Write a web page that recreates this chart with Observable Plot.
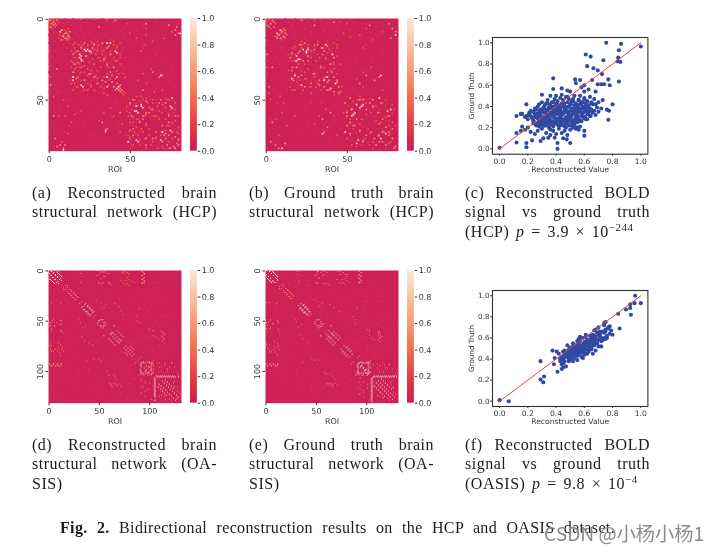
<!DOCTYPE html>
<html><head><meta charset="utf-8">
<script src="https://cdn.jsdelivr.net/npm/d3@7"></script>
<script src="https://cdn.jsdelivr.net/npm/@observablehq/plot@0.6"></script>
<style>
html,body{margin:0;padding:0;background:#fff;width:715px;height:552px;overflow:hidden}
#page{position:relative;width:715px;height:552px;filter:blur(.35px)}
.p{position:absolute}
.heat rect{shape-rendering:crispEdges}
.heat svg g[aria-label="cell"],.heat svg g[aria-label="frame"]{filter:blur(.45px)}
.l{position:absolute;font-family:"Liberation Serif",serif;font-size:16px;line-height:19px;color:#1c1c1c;white-space:nowrap;letter-spacing:.5px}
.j{white-space:normal;text-align:justify;text-align-last:justify}
.w{word-spacing:2.2px}
sup{font-size:11px;line-height:0}
#wm{position:absolute;left:544px;top:521px;font-family:"Noto Sans CJK SC",sans-serif;font-size:19.2px;line-height:24px;color:#8b8b8b;white-space:nowrap}
</style></head><body><div id="page"></div>
<script>
// ---------- Heatmap cells (row, col); each is mirrored across the diagonal
const hcpReconPeak=[[7,8],[19,24],[23,20],[25,20],[19,22],[20,41],[15,36],[36,15],[38,15],[42,21],[36,36],[42,43],[36,42],[57,54],[58,55],[53,57],[54,54],[54,75],[75,69],[70,70],[76,55],[76,49],[69,35],[81,9]];
const hcpReconHigh=[[1,1],[2,3],[1,5],[3,4],[9,10],[10,12],[9,11],[11,12],[8,13],[15,22],[16,28],[18,20],[18,36],[21,26],[22,38],[23,23],[20,26],[18,27],[30,40],[15,33],[25,34],[28,36],[17,37],[33,38],[39,39],[40,42],[41,44],[43,44],[44,45],[35,39],[50,52],[51,60],[52,72],[56,64],[58,60],[60,78],[58,62],[64,74],[66,70],[52,68],[70,76],[71,72],[72,74],[73,78],[75,80],[77,79],[78,80],[50,69],[60,74],[0,20],[1,41],[3,60],[4,74],[7,78],[9,80],[5,79],[36,68],[35,70],[33,64],[44,58],[10,78],[5,31]];
const hcpReconMid=[[0,4],[0,6],[2,6],[4,5],[3,1],[7,10],[8,11],[11,13],[12,13],[6,12],[0,24],[0,28],[1,36],[0,45],[3,48],[14,20],[14,26],[14,30],[14,40],[15,16],[15,44],[16,18],[16,24],[17,20],[17,30],[17,42],[19,28],[19,34],[20,30],[20,38],[21,16],[22,33],[22,44],[24,31],[24,40],[25,27],[26,34],[26,42],[27,15],[28,28],[28,44],[29,22],[29,36],[30,19],[30,32],[31,16],[32,26],[32,42],[33,20],[34,36],[34,46],[35,24],[37,30],[37,41],[38,22],[38,37],[40,16],[40,30],[41,26],[42,18],[43,34],[44,24],[45,46],[46,47],[47,36],[48,54],[49,60],[49,72],[50,58],[50,74],[51,56],[52,64],[53,50],[53,70],[55,62],[55,72],[56,78],[57,48],[57,68],[59,60],[59,74],[60,66],[61,52],[62,72],[63,56],[63,78],[64,50],[65,60],[66,74],[67,54],[67,80],[68,62],[69,72],[70,58],[71,80],[73,50],[73,66],[74,76],[75,56],[76,64],[78,52],[79,70],[80,60],[80,74],[10,60],[8,76],[6,60],[40,60],[38,55],[31,63],[34,58],[16,59],[20,57],[44,70],[45,65],[12,54],[12,71],[14,64],[9,50]];
const hcpReconDim=[[0,10],[0,15],[0,33],[1,18],[1,29],[2,12],[2,23],[2,40],[3,9],[4,14],[4,20],[5,9],[5,46],[6,20],[6,33],[7,13],[7,45],[8,25],[8,40],[9,16],[10,22],[10,34],[11,18],[11,46],[12,28],[13,38],[13,15],[14,17],[15,28],[16,33],[16,40],[17,24],[18,46],[19,16],[20,21],[21,29],[21,44],[22,18],[23,35],[24,24],[25,43],[26,16],[27,30],[27,38],[28,19],[29,45],[30,24],[31,36],[32,18],[33,45],[35,29],[37,47],[39,18],[39,26],[41,33],[43,16],[45,20],[46,31],[47,24],[48,62],[49,49],[50,66],[51,78],[52,54],[54,62],[55,48],[56,70],[58,49],[58,77],[59,54],[61,68],[62,50],[64,60],[65,76],[66,52],[68,80],[69,58],[71,54],[72,62],[74,50],[77,56],[77,68],[79,60],[80,50],[2,52],[2,66],[6,70],[7,54],[13,50],[13,66],[4,58],[18,58],[22,66],[24,52],[26,72],[28,60],[30,76],[32,54],[34,66],[36,50],[38,74],[39,61],[41,52],[43,66],[46,56],[47,72],[10,70],[3,80]];
const hcpTruthPeak=[[7,9],[25,20],[19,26],[19,23],[21,25],[22,41],[18,35],[37,16],[40,43],[38,36],[59,54],[53,60],[55,58],[56,53],[57,75],[74,71],[70,49],[77,56],[71,35],[80,10]];
const hcpTruthHigh=[[0,2],[1,4],[2,5],[3,3],[8,10],[9,12],[10,8],[11,11],[7,12],[15,24],[16,21],[17,38],[19,30],[20,36],[21,20],[23,26],[24,42],[26,18],[28,40],[30,34],[32,16],[33,38],[35,22],[36,42],[37,36],[38,39],[39,44],[41,33],[42,45],[44,38],[45,46],[49,52],[50,60],[52,71],[54,66],[56,62],[58,50],[60,76],[62,72],[64,52],[65,70],[67,74],[69,58],[70,72],[72,76],[74,78],[76,70],[78,68],[79,80],[66,50],[1,22],[2,42],[4,64],[3,76],[6,78],[8,80],[36,70],[38,67],[35,62],[40,58],[12,77],[4,30]];
const hcpTruthMid=[[0,6],[1,1],[3,6],[5,5],[7,11],[9,9],[10,13],[12,12],[6,11],[0,26],[1,30],[0,40],[2,46],[3,50],[14,22],[14,32],[15,42],[16,26],[17,18],[17,30],[18,22],[18,44],[20,28],[21,38],[22,16],[22,32],[23,44],[24,28],[25,37],[26,26],[27,42],[28,20],[29,34],[30,16],[31,26],[31,42],[33,24],[34,18],[34,44],[36,30],[37,24],[39,19],[40,32],[41,22],[42,28],[43,40],[44,16],[46,28],[47,42],[48,58],[49,70],[50,74],[51,54],[52,62],[53,78],[55,66],[57,50],[58,70],[59,62],[60,54],[61,74],[63,68],[64,78],[65,58],[66,76],[68,54],[69,72],[71,64],[72,52],[73,70],[75,60],[77,76],[79,56],[80,66],[10,58],[8,72],[6,62],[42,60],[37,56],[30,65],[33,60],[18,60],[44,72],[11,52],[13,66],[9,48]];
const hcpTruthDim=[[0,12],[0,18],[1,34],[2,14],[2,26],[3,38],[4,16],[5,44],[6,24],[7,36],[8,28],[10,18],[11,40],[12,24],[13,44],[14,38],[15,18],[16,36],[17,44],[19,18],[20,40],[21,30],[23,16],[24,34],[25,22],[27,28],[28,46],[29,20],[31,35],[32,40],[33,30],[35,46],[37,19],[39,28],[40,16],[43,20],[45,32],[46,22],[48,50],[49,64],[50,78],[51,68],[53,56],[54,74],[56,50],[57,64],[59,78],[61,50],[62,60],[63,76],[65,52],[67,60],[68,78],[70,56],[71,48],[73,60],[75,52],[76,66],[78,58],[80,74],[2,54],[5,68],[7,52],[12,64],[16,62],[20,72],[24,56],[26,66],[28,52],[32,70],[34,52],[39,74],[41,62],[43,54],[46,68],[3,62]];
const oasisReconPeak=[[55,65],[1,3],[3,5],[5,7],[7,9],[2,9],[4,11],[6,13],[8,12],[106,108],[106,112],[106,116],[106,120],[106,124],[107,105],[111,105],[115,105],[119,105],[123,105],[110,113],[112,115],[114,117],[116,119],[109,116],[111,118],[113,120],[92,94],[96,100],[102,92],[102,98],[36,39],[38,41],[40,43]];
const oasisReconHigh=[[0,2],[0,7],[0,11],[2,5],[4,7],[6,9],[9,11],[10,13],[1,9],[3,10],[5,12],[106,110],[106,114],[106,118],[106,122],[106,126],[106,129],[109,105],[113,105],[117,105],[121,105],[125,105],[129,105],[118,121],[120,123],[122,125],[124,127],[126,129],[115,122],[117,124],[92,92],[92,96],[92,100],[92,103],[94,91],[98,91],[100,91],[95,97],[97,99],[99,101],[102,94],[102,96],[102,100],[102,103],[33,37],[35,39],[37,41],[39,43],[41,45],[34,36],[42,44],[62,64],[64,66],[66,68],[68,70],[70,72],[60,68],[62,70],[64,72],[66,74],[49,52],[49,54],[50,50],[52,56],[54,57],[55,52],[55,55],[0,48],[0,50],[1,93],[3,95],[5,93],[7,95],[9,93],[11,95],[13,93],[63,62],[71,69],[75,77],[77,79],[79,81],[81,83],[83,85],[76,82],[78,84]];
const oasisReconMid=[[17,15],[19,17],[21,19],[23,21],[25,23],[27,25],[29,27],[20,23],[22,25],[24,27],[26,29],[15,19],[31,33],[45,47],[1,52],[2,55],[3,58],[5,48],[6,55],[12,50],[12,54],[13,60],[1,75],[2,78],[3,80],[5,80],[7,78],[9,80],[11,82],[12,85],[0,32],[3,32],[12,32],[0,61],[0,64],[50,0],[52,2],[50,4],[52,8],[50,13],[55,1],[56,6],[59,0],[60,3],[60,12],[62,14],[53,13],[75,3],[77,10],[78,13],[80,15],[73,2],[72,10],[74,12],[76,14],[80,3],[92,0],[94,2],[95,4],[93,5],[94,8],[95,10],[95,13],[93,12],[104,94],[104,98],[104,102],[90,104],[95,104],[100,104],[113,62],[113,66],[113,70],[115,64],[115,68],[115,72],[104,65],[104,60],[60,112],[62,114],[65,112],[68,114],[63,116],[108,92],[110,96],[112,100],[115,94],[118,98],[122,92],[125,96],[128,102],[92,110],[96,112],[92,116],[96,120],[92,122],[100,118],[30,48],[32,52],[34,57],[37,55],[33,66],[36,70],[40,72],[44,74],[45,88],[50,88],[38,90],[88,90],[86,92],[52,90],[58,100],[60,104],[66,106],[68,109],[120,128],[115,125],[110,125],[127,128],[124,112],[128,116],[130,122]];
const oasisReconDim=[[18,30],[20,32],[23,40],[25,44],[10,20],[12,22],[8,30],[6,34],[11,40],[14,44],[28,50],[30,56],[32,40],[36,52],[42,54],[44,60],[46,52],[58,60],[60,62],[57,70],[72,80],[73,82],[70,88],[69,92],[67,95],[84,88],[86,88],[82,94],[80,100],[90,60],[92,52],[96,48],[98,40],[100,30],[96,36],[100,22],[103,12],[110,30],[117,30],[118,45],[106,50],[110,55],[120,62],[122,72],[125,70],[128,80],[100,76],[104,80],[108,84],[112,80],[98,66],[94,72],[20,110],[30,100],[48,120],[56,118],[50,128],[40,100],[45,115],[70,120],[75,110],[82,118],[78,126],[88,128],[85,108],[42,70],[48,82],[54,86],[22,62],[28,70],[16,72],[19,90],[26,82],[12,106],[4,118],[8,125]];
const oasisTruthPeak=[[55,65],[1,4],[3,6],[5,8],[7,10],[2,8],[4,10],[6,12],[106,107],[106,111],[106,115],[106,119],[106,123],[106,127],[108,105],[112,105],[116,105],[120,105],[124,105],[128,105],[110,112],[112,114],[114,116],[116,118],[118,120],[108,115],[110,117],[112,119],[114,121],[92,93],[92,97],[92,101],[102,91],[102,95],[102,99],[102,103],[95,95],[97,97],[99,99],[35,38],[37,40],[39,42],[41,44],[63,66],[65,68],[67,70],[69,72]];
const oasisTruthHigh=[[0,1],[0,5],[0,9],[1,7],[3,9],[5,11],[8,11],[9,12],[10,12],[106,109],[106,113],[106,117],[106,121],[106,125],[106,130],[110,105],[114,105],[118,105],[122,105],[126,105],[130,105],[120,122],[122,124],[124,126],[126,128],[116,123],[118,125],[92,95],[92,99],[92,103],[94,91],[96,91],[100,91],[94,96],[98,100],[100,102],[102,93],[102,97],[102,101],[33,35],[35,37],[37,39],[39,41],[41,43],[43,45],[34,38],[36,40],[38,42],[61,68],[63,70],[65,72],[67,74],[60,63],[62,65],[64,67],[49,51],[49,53],[51,55],[53,57],[55,53],[55,56],[0,49],[0,51],[0,93],[2,95],[4,93],[6,95],[8,93],[10,95],[12,93],[1,52],[75,78],[77,80],[79,82],[81,84],[83,86],[76,81],[78,83],[80,85],[90,104],[96,104],[101,104]];
const oasisTruthMid=[[16,14],[18,16],[20,18],[22,20],[24,22],[26,24],[28,26],[19,22],[21,24],[23,26],[25,28],[14,18],[2,55],[4,58],[5,49],[7,53],[12,51],[13,58],[1,74],[2,77],[4,79],[6,81],[8,79],[10,81],[12,84],[1,32],[4,32],[11,33],[49,0],[51,3],[50,5],[53,8],[50,12],[54,0],[57,5],[58,1],[61,2],[60,13],[63,14],[52,13],[74,4],[76,9],[77,12],[79,14],[72,1],[71,9],[73,12],[75,13],[81,4],[91,0],[93,1],[94,5],[92,6],[94,9],[93,12],[95,12],[104,93],[104,97],[104,101],[112,61],[112,65],[112,69],[114,63],[114,67],[114,71],[116,66],[103,64],[103,59],[61,113],[63,112],[65,114],[67,113],[107,94],[111,97],[113,101],[116,92],[119,97],[123,94],[126,98],[129,103],[93,111],[95,114],[94,118],[97,121],[93,123],[101,117],[29,48],[31,51],[33,56],[36,54],[34,64],[37,68],[41,73],[46,87],[49,89],[37,91],[87,91],[85,93],[53,89],[59,101],[61,103],[67,105],[69,108],[121,127],[116,126],[111,124],[125,113],[127,117],[129,123]];
const oasisTruthDim=[[17,30],[21,33],[24,41],[26,45],[9,21],[13,23],[7,31],[5,35],[10,41],[15,43],[27,51],[31,57],[33,41],[35,53],[43,55],[45,61],[47,53],[59,61],[58,71],[71,81],[74,83],[71,87],[70,91],[66,96],[85,87],[81,95],[79,101],[91,61],[93,51],[97,49],[99,41],[101,31],[97,35],[101,21],[104,13],[111,31],[116,31],[117,46],[107,51],[111,54],[121,63],[123,73],[126,71],[127,81],[101,75],[105,81],[109,83],[113,81],[99,67],[93,73],[21,111],[31,99],[47,121],[57,117],[51,127],[41,99],[46,114],[71,119],[74,111],[83,117],[79,125],[89,127],[84,109],[43,71],[49,83],[55,85],[23,63],[29,71],[17,73],[20,89],[27,83]];

// ---------- Scatter panels (x = reconstructed, y = ground truth)
const hcpPtsX=[0,.12,.19,.19,.23,.29,.31,.345,.39,.41,.41,.45,.475,.5,.48,.6,1,.86,.755,.845,.84,.855,.835,.61,.645,.62,.665,.695,.735,.725,.695,.72,.74,.77,.78,.845,.655,.57,.535,.54,.38,.38,.3,.19,.12,.15,.6,.58,.6,.63,.68,.44,.48,.5,.53,.57,.6,.8,.73,.76,.775,.77,.12,.15,.18,.55,.54,.6,.57,.53,.56,.16,.2,.22,.25,.27,.3,.33,.36,.24,.28,.32,.35,.38,.42,.44,.47,.4,.46,.43,.5,.52,.36,.34,.26,
.18,.2,.22,.24,.26,.28,.3,.32,.34,.36,.38,.4,.42,.44,.46,.48,.5,.52,.54,.56,.58,.6,.62,.64,.66,.68,.7,
.16,.19,.21,.23,.25,.27,.29,.31,.33,.35,.37,.39,.41,.43,.45,.47,.49,.51,.53,.55,.57,.59,.61,.63,.65,.67,.69,
.22,.24,.26,.28,.3,.32,.34,.36,.38,.4,.42,.44,.46,.48,.5,.52,.54,.56,.58,.6,.62,.64,.66,
.25,.27,.29,.31,.33,.35,.37,.39,.41,.43,.45,.47,.49,.51,.53,.55,.57,.59,.61,.63,.65,
.28,.3,.32,.34,.36,.38,.4,.42,.44,.46,.48,.5,.52,.54,.56,.58,.6,
.3,.33,.35,.37,.39,.41,.43,.45,.47,.49,.51,.53,.55,.57,
.28,.31,.33,.36,.38,.4,.42,.44,.46,.48,.5,.52,.54,
.34,.37,.39,.41,.43,.45,.47,.49,.51,
.36,.4,.44,.48,.52,.56,.59,.62,.65,.68,.7,.72,.64,.67,.58,.61,
.205,.23,.255,.28,.305,.33,.355,.38,.405,.43,.455,.48,.505,.53,.555,.58,.605,.63,
.215,.24,.265,.29,.315,.34,.365,.39,.415,.44,.465,.49,.515,.54,.565,.59,.615,.64,
.27,.295,.32,.345,.37,.395,.42,.445,.47,.495,.52,.545,.57,.595,.62,.645,
.26,.285,.31,.335,.36,.385,.41,.435,.46,.485,.51,.535,.56,
.33,.355,.38,.405,.43,.455,.48,.505,.53,.555,.58,.605,
.24,.265,.29,.315,.34,.365,.39,.415,.44,.465,.49];
const hcpPtsY=[.01,.06,.055,.015,.08,.075,.1,.105,.105,.055,0,.1,.09,.055,.13,.125,.965,.99,1,.93,.86,.82,.825,.89,.87,.78,.76,.74,.835,.705,.61,.61,.61,.655,.6,.635,.65,.65,.655,.62,.665,.565,.51,.42,.31,.33,.6,.58,.54,.56,.54,.57,.55,.54,.5,.5,.48,.42,.46,.37,.36,.275,.15,.17,.18,.2,.19,.17,.21,.22,.18,.21,.2,.16,.14,.17,.19,.15,.18,.24,.23,.22,.2,.17,.19,.15,.2,.14,.17,.22,.18,.2,.13,.24,.22,
.3,.28,.31,.27,.3,.26,.29,.25,.28,.26,.3,.27,.29,.26,.28,.25,.29,.27,.3,.28,.31,.3,.33,.31,.34,.32,.35,
.33,.31,.34,.3,.33,.29,.32,.3,.33,.29,.32,.3,.33,.31,.33,.3,.32,.31,.34,.32,.35,.34,.36,.35,.37,.36,.39,
.36,.35,.37,.34,.36,.34,.36,.33,.35,.34,.36,.33,.35,.34,.36,.33,.37,.35,.38,.37,.4,.38,.42,
.38,.4,.37,.39,.37,.39,.38,.37,.39,.37,.4,.38,.4,.37,.41,.39,.42,.4,.43,.41,.44,
.42,.44,.41,.43,.41,.4,.42,.41,.43,.41,.44,.42,.45,.43,.46,.44,.47,
.24,.26,.24,.26,.24,.27,.25,.27,.25,.27,.24,.26,.25,.27,
.21,.22,.22,.23,.21,.24,.22,.23,.21,.24,.22,.23,.25,
.46,.44,.47,.45,.48,.46,.49,.47,.45,
.5,.5,.51,.49,.47,.46,.44,.45,.43,.42,.44,.38,.49,.47,.26,.28,
.32,.29,.3,.31,.28,.3,.29,.31,.28,.3,.27,.29,.31,.28,.3,.32,.3,.33,
.34,.35,.33,.35,.34,.32,.34,.32,.34,.32,.35,.33,.35,.33,.36,.34,.37,.36,
.29,.27,.27,.28,.26,.28,.26,.28,.26,.27,.25,.27,.26,.29,.28,.31,
.38,.36,.38,.36,.38,.35,.37,.35,.37,.35,.38,.36,.38,
.43,.4,.44,.42,.39,.43,.39,.42,.39,.41,.43,.4,
.26,.24,.23,.22,.28,.23,.24,.22,.23,.24,.22];
const oasisPtsX=[0,.065,.29,.29,.31,.315,.375,.39,.385,.41,.405,.44,.45,.59,1,.96,.955,.925,.93,.925,.895,.84,.85,.75,.74,.43,.44,.42,.45,.46,.43,.47,.48,.46,.44,.49,.5,.47,.49,.45,.51,.52,.5,.48,.53,.54,.51,.52,.5,.55,.56,.54,.53,.57,.58,.55,.56,.54,.53,.59,.6,.57,.58,.56,.61,.62,.6,.59,.58,.63,.64,.62,.61,.6,.65,.66,.64,.63,.62,.67,.68,.66,.65,.64,.69,.7,.68,.67,.66,.71,.72,.7,.69,.68,.73,.74,.72,.71,.75,.76,.74,.73,.77,.78,.76,.79,.8,.78,.47,.49,.51,.55,.57,.52,.58,.62,.65,.68,.7,.73,.55,.6,.63,.66,.46,.5,.61,.67,.71,.75,.52,.48,.56,.59,
.45,.47,.49,.51,.53,.55,.57,.59,.61,.63,.65,.67,.69,.71,.73,.46,.48,.5,.52,.54,.56,.58,.6,.62,.64,.66,.68,.7,.72,.74,.43,.45,.47,.49,.51,.53,.55,.57,.59,.61,.63,.65,.67,.69,.71,.75,.77];
const oasisPtsY=[.01,0,.38,.205,.18,.235,.48,.41,.35,.28,.47,.305,.32,.41,.93,1,.93,.92,.82,.885,.87,.83,.69,.75,.74,.38,.42,.45,.36,.44,.41,.33,.46,.38,.35,.49,.45,.42,.38,.47,.43,.47,.4,.44,.5,.46,.42,.52,.49,.48,.44,.53,.41,.52,.46,.43,.55,.5,.47,.54,.5,.57,.47,.59,.53,.49,.56,.6,.52,.55,.51,.58,.61,.46,.58,.54,.62,.51,.56,.6,.56,.63,.49,.55,.65,.58,.68,.53,.6,.62,.57,.7,.55,.61,.66,.6,.52,.64,.68,.62,.72,.58,.7,.64,.6,.67,.63,.71,.43,.39,.47,.57,.61,.55,.42,.45,.5,.48,.52,.58,.39,.44,.47,.45,.48,.51,.63,.67,.66,.59,.38,.53,.45,.49,
.4,.43,.41,.45,.44,.48,.46,.5,.49,.53,.52,.56,.55,.6,.59,.46,.47,.47,.5,.48,.52,.51,.54,.54,.57,.57,.59,.63,.6,.65,.4,.42,.44,.43,.46,.45,.5,.49,.51,.56,.58,.6,.62,.58,.64,.66,.69];

// ---------- Labels and ticks
const captions=[
 ["(a) Reconstructed brain","structural network (HCP)",null],
 ["(b) Ground truth brain","structural network (HCP)",null],
 ["(c) Reconstructed BOLD","signal vs ground truth",'(HCP) <i>p</i> = 3.9 × 10<sup>−244</sup>'],
 ["(d) Reconstructed brain","structural network (OA-","SIS)"],
 ["(e) Ground truth brain","structural network (OA-","SIS)"],
 ["(f) Reconstructed BOLD","signal vs ground truth",'(OASIS) <i>p</i> = 9.8 × 10<sup>−4</sup>']
];
const unitTicks=[0,.2,.4,.6,.8,1];
const hcpTicks=[0,50], oasisTicks=[0,50,100];
const hcpLevels=[.95,.56,.32,.16];
const oasisLevels=[1,.8,.5,.22];
const colorStops=[0,.143,.43,.714,1];
const colorHex=["#cc1f55","#e13342","#f37651","#f6b48f","#faebdd"];

const page=document.getElementById("page");
function place(el,x,y){const d=document.createElement("div");d.className="p";d.style.left=x+"px";d.style.top=y+"px";d.append(el);page.append(d);}
const baseStyle={fontFamily:"DejaVu Sans",fontSize:"8px",color:"#333",background:"transparent",overflow:"visible"};
const colorScale={type:"linear",domain:colorStops,range:colorHex,interpolate:"rgb"};

function heat(left,top,n,ticks,levels,levelValues){
  const cells=[];
  levels.forEach((list,i)=>list.forEach(([r,c])=>{
    if(r<n&&c<n){cells.push({r,c,v:levelValues[i]});cells.push({r:c,c:r,v:levelValues[i]});}
  }));
  cells.reverse();
  const domain=d3.range(n);
  const ml=20,mt=6,mb=30,mr=4;
  place(Plot.plot({width:133+ml+mr,height:132.7+mt+mb,marginLeft:ml,marginRight:mr,marginTop:mt,marginBottom:mb,style:baseStyle,
    x:{type:"band",domain,round:false,padding:0},y:{type:"band",domain,round:false,padding:0},color:colorScale,
    marks:[
      Plot.frame({fill:"#cd2157",stroke:null}),
      Plot.cell(cells,{x:"c",y:"r",fill:"v"}),
      Plot.axisX({ticks,tickSize:2.5,tickPadding:2.5,stroke:"#333",fill:"#333",label:"ROI",labelAnchor:"center",labelArrow:"none",labelOffset:20.5}),
      Plot.axisY({ticks,tickSize:2.5,tickPadding:3,stroke:"#333",fill:"#333",tickRotate:-90,label:null})
    ]}),left-ml,top-mt);
  // colour bar
  const ramp=d3.range(0,1,.01);
  const ct=6,cb=6;
  place(Plot.plot({width:30,height:132.7+ct+cb,marginLeft:0,marginRight:23.3,marginTop:ct,marginBottom:cb,style:baseStyle,
    x:{axis:null,domain:[0,1]},y:{domain:[0,1]},color:colorScale,
    marks:[
      Plot.rect(ramp,{x1:0,x2:1,y1:d=>d,y2:d=>Math.min(1,d+.02),fill:d=>d}),
      Plot.axisY({anchor:"right",ticks:unitTicks,tickFormat:".1f",tickSize:2.5,tickPadding:2,stroke:"#333",fill:"#333",label:null})
    ]}),left+141.7,top-ct);
}
function scatter(top,h,xs,ys){
  const pts=xs.map((x,i)=>({x,y:ys[i]}));
  const ml=26,mr=6,mt=6,mb=24;
  place(Plot.plot({width:155.4+ml+mr,height:h+mt+mb,marginLeft:ml,marginRight:mr,marginTop:mt,marginBottom:mb,style:{...baseStyle,fontSize:"7.6px"},
    x:{domain:[-.05,1.05]},y:{domain:[-.05,1.05]},
    marks:[
      Plot.dot(pts,{x:"x",y:"y",r:2.05,fill:"#3049a1"}),
      Plot.line([{x:0,y:0},{x:1,y:1}],{x:"x",y:"y",stroke:"#e1463e",strokeWidth:1}),
      Plot.frame({stroke:"#333",strokeWidth:1.1}),
      Plot.axisX({ticks:unitTicks,tickFormat:".1f",tickSize:2,tickPadding:2.5,stroke:"#333",fill:"#333",label:"Reconstructed Value",labelAnchor:"center",labelArrow:"none",labelOffset:17.5,fontSize:7.6}),
      Plot.axisY({ticks:unitTicks,tickFormat:".1f",tickSize:2,tickPadding:1,stroke:"#333",fill:"#333",label:"Ground Truth",labelAnchor:"center",labelArrow:"none",labelOffset:23.5,fontSize:7.2})
    ]}),492.3-ml,top-mt);
}
heat(48.3,17.5,82,hcpTicks,[hcpReconPeak,hcpReconHigh,hcpReconMid,hcpReconDim],hcpLevels);
heat(265.3,17.5,82,hcpTicks,[hcpTruthPeak,hcpTruthHigh,hcpTruthMid,hcpTruthDim],hcpLevels);
heat(48.3,270,132,oasisTicks,[oasisReconPeak,oasisReconHigh,oasisReconMid,oasisReconDim],oasisLevels);
heat(265.3,270,132,oasisTicks,[oasisTruthPeak,oasisTruthHigh,oasisTruthMid,oasisTruthDim],oasisLevels);
scatter(37.3,116.7,hcpPtsX,hcpPtsY);
scatter(290,116,oasisPtsX,oasisPtsY);

// captions
const colX=[32,249,465], rowY=[183,435];
captions.forEach((lines,i)=>{
  const col=i%3,row=i<3?0:1;
  lines.forEach((t,k)=>{
    if(!t)return;
    const d=document.createElement("div");
    const isLast=k===2;
    d.className="l"+(isLast?" w":" j");
    d.style.left=colX[col]+"px";d.style.top=(rowY[row]+k*19.4)+"px";
    if(!isLast)d.style.width="185px";
    d.innerHTML=t;page.append(d);
  });
});
const cap=document.createElement("div");
cap.className="l j";cap.style.left="60px";cap.style.top="518px";cap.style.width="555px";cap.style.letterSpacing=".35px";
cap.innerHTML="<b>Fig. 2.</b> Bidirectional reconstruction results on the HCP and OASIS dataset.";
page.append(cap);
const wm=document.createElement("div");wm.id="wm";wm.textContent="CSDN @小杨小杨1";page.append(wm);
</script></body></html>
